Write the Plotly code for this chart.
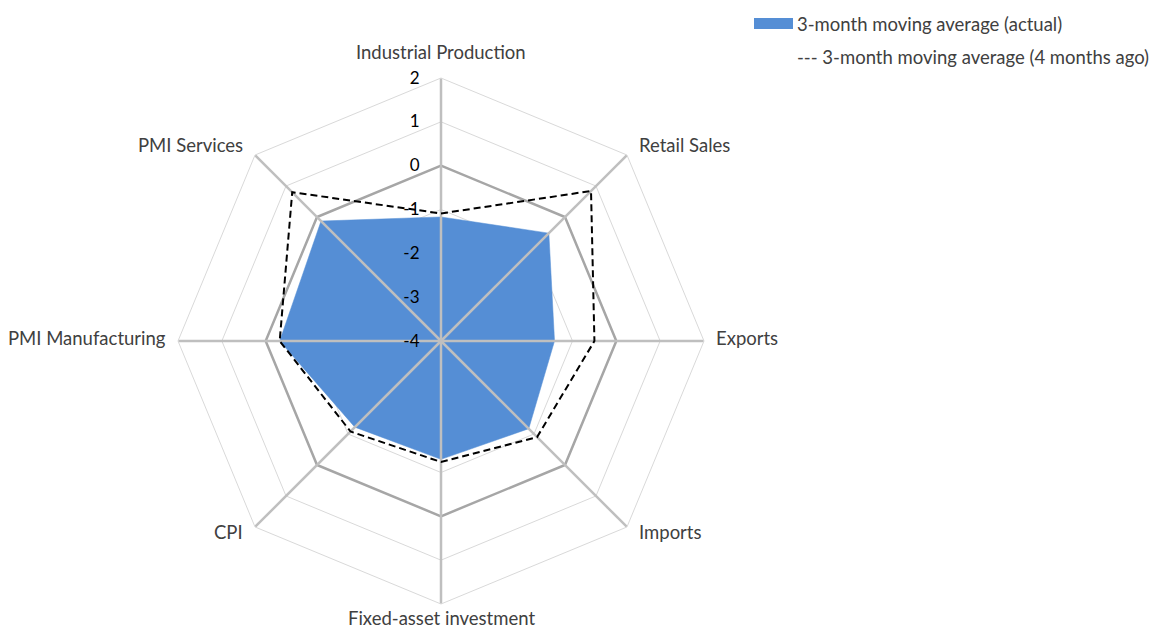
import math
import plotly.graph_objects as go

categories = ["Industrial Production", "Retail Sales", "Exports", "Imports",
              "Fixed-asset investment", "CPI", "PMI Manufacturing", "PMI Services"]
actual = [-1.17, -0.52, -1.41, -1.17, -1.30, -1.22, -0.32, -0.13]
four_months_ago = [-1.09, 0.84, -0.50, -0.90, -1.24, -1.08, -0.32, 0.80]
radial_ticks = [-4, -3, -2, -1, 0, 1, 2]
legend_labels = ["3-month moving average (actual)", "--- 3-month moving average (4 months ago)"]

FONT = "Lato"
FS = 18.5
BLUE = "#558ED5"
TEXT = "#404040"

def closed(vals):
    return list(vals) + [vals[0]]

theta_c = closed(categories)

fig = go.Figure()

fig.add_trace(go.Scatterpolar(
    r=closed(actual), theta=theta_c, mode="lines", fill="toself",
    fillcolor=BLUE, line=dict(color=BLUE, width=0.5), showlegend=False, hoverinfo="skip"))

fig.add_trace(go.Scatterpolar(
    r=[0] * (len(categories) + 1), theta=theta_c, mode="lines",
    line=dict(color="#A6A6A6", width=2.5), showlegend=False, hoverinfo="skip"))

spk_r, spk_t = [], []
for c in categories:
    spk_r += [radial_ticks[0], radial_ticks[-1], None]
    spk_t += [c, c, None]
fig.add_trace(go.Scatterpolar(
    r=spk_r, theta=spk_t, mode="lines", connectgaps=False,
    line=dict(color="#BFBFBF", width=2.5), showlegend=False, hoverinfo="skip"))

fig.add_trace(go.Scatterpolar(
    r=closed(four_months_ago), theta=theta_c, mode="lines",
    line=dict(color="black", width=2, dash="7px,4px"), showlegend=False, hoverinfo="skip"))

W, H = 1157, 631
cx, cy, R = 441, 341, 263
fig.update_layout(
    width=W, height=H,
    margin=dict(l=0, r=0, t=0, b=0),
    paper_bgcolor="white", plot_bgcolor="white",
    font=dict(family=FONT, size=FS, color=TEXT),
    showlegend=False,
    polar=dict(
        domain=dict(x=[(cx - R) / W, (cx + R) / W],
                    y=[(H - cy - R) / H, (H - cy + R) / H]),
        bgcolor="white",
        gridshape="linear",
        radialaxis=dict(
            range=[radial_ticks[0], radial_ticks[-1]],
            tickvals=radial_ticks, ticktext=[str(v) for v in radial_ticks],
            angle=90, side="counterclockwise", tickangle=90,
            showline=False, ticks="outside", ticklen=15, tickcolor="rgba(0,0,0,0)",
            gridcolor="#D9D9D9", gridwidth=1,
            tickfont=dict(family=FONT, size=17, color="black"),
        ),
        angularaxis=dict(
            direction="clockwise", rotation=90,
            showgrid=False, showline=True, linecolor="#D9D9D9", linewidth=1,
            showticklabels=False, ticks="",
        ),
    ),
)

# category labels placed just outside each polygon vertex
n = len(categories)
for i, name in enumerate(categories):
    ang = math.radians(90 - 360 * i / n)
    c, s = math.cos(ang), math.sin(ang)
    vx, vy = cx + R * c, cy - R * s
    ya = "middle"
    if abs(c) < 1e-6:
        xa, px = "center", vx
        if s > 0:
            py = vy - 26
        else:
            py, ya = H, "bottom"
    else:
        xa = "left" if c > 0 else "right"
        px = vx + (10 if c > 0 else -10)
        py = vy - 10 if s > 1e-6 else (vy + 5 if s < -1e-6 else vy - 3)
    fig.add_annotation(x=px / W, y=1 - py / H, xref="paper", yref="paper",
                       text=name, showarrow=False, xanchor=xa, yanchor=ya,
                       font=dict(family=FONT, size=FS, color=TEXT))

fig.add_shape(type="rect", xref="paper", yref="paper",
              x0=754 / W, x1=793 / W, y0=1 - 29 / H, y1=1 - 18 / H,
              fillcolor=BLUE, line=dict(width=0))
fig.add_annotation(x=795 / W, y=1 - 24 / H, xref="paper", yref="paper",
                   text=legend_labels[0], showarrow=False, xanchor="left", yanchor="middle",
                   font=dict(family=FONT, size=FS, color=TEXT))
fig.add_annotation(x=795 / W, y=1 - 57 / H, xref="paper", yref="paper",
                   text=legend_labels[1], showarrow=False, xanchor="left", yanchor="middle",
                   font=dict(family=FONT, size=FS, color=TEXT))

fig.write_html("out.html")
